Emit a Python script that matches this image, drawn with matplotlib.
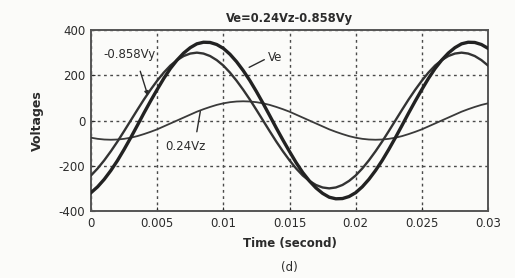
import numpy as np
import matplotlib
matplotlib.use("Agg")
import matplotlib.pyplot as plt

plt.rcParams["font.family"] = ["DejaVu Sans"]
plt.rcParams["axes.unicode_minus"] = False

# time axis (seconds), one sample every 0.5 ms
t = np.arange(61) * 0.0005

# -0.858Vy component
vy = [-243, -212, -176, -136, -93, -47, 0, 47, 93, 136, 176, 212, 243, 267, 285, 296,
      300, 296, 285, 267, 243, 212, 176, 136, 93, 47, 0, -47, -93, -136, -176, -212,
      -243, -267, -285, -296, -300, -296, -285, -267, -243, -212, -176, -136, -93, -47,
      0, 47, 93, 136, 176, 212, 243, 267, 285, 296, 300, 296, 285, 267, 243]

# 0.24Vz component
vz = [-76, -81, -84, -85, -84, -81, -76, -69, -60, -50, -39, -26, -13, 0, 13, 26,
      39, 50, 60, 69, 76, 81, 84, 85, 84, 81, 76, 69, 60, 50, 39, 26,
      13, 0, -13, -26, -39, -50, -60, -69, -76, -81, -84, -85, -84, -81,
      -76, -69, -60, -50, -39, -26, -13, 0, 13, 26, 39, 50, 60, 69, 76]

# Ve resultant
ve = [-319, -293, -260, -221, -177, -128, -76, -22, 33, 86, 137, 186, 230, 267, 298, 322,
      339, 346, 345, 336, 319, 293, 260, 221, 177, 128, 76, 22, -33, -86, -137, -186,
      -230, -267, -298, -322, -339, -346, -345, -336, -319, -293, -260, -221, -177, -128,
      -76, -22, 33, 86, 137, 186, 230, 267, 298, 322, 339, 346, 345, 336, 319]

xticks = [0, 0.005, 0.01, 0.015, 0.02, 0.025, 0.03]
xticklabels = ["0", "0.005", "0.01", "0.015", "0.02", "0.025", "0.03"]
yticks = [-400, -200, 0, 200, 400]

INK = "#2b2b2b"
GRID = "#4a4a4a"
BG = "#fbfbf9"

fig = plt.figure(figsize=(5.15, 2.78), dpi=100, facecolor=BG)
ax = fig.add_axes([0.1767, 0.241, 0.7709, 0.651], facecolor=BG)

ax.plot(t, vz, color="#3a3a3a", lw=1.3, zorder=3)
ax.plot(t, vy, color="#333333", lw=1.7, zorder=3)
ax.plot(t, ve, color="#222222", lw=2.4, zorder=4)

ax.set_xlim(0, 0.03)
ax.set_ylim(-400, 400)
ax.set_xticks(xticks)
ax.set_xticklabels(xticklabels)
ax.set_yticks(yticks)
ax.tick_params(direction="in", length=3, labelsize=8.5, colors=INK, pad=4)
ax.grid(True, color=GRID, linestyle=(0, (2, 2.5)), linewidth=1.0)
for s in ax.spines.values():
    s.set_color("#555555")
    s.set_linewidth(1.4)

ax.set_title("Ve=0.24Vz-0.858Vy", fontsize=8.3, fontweight="bold", color=INK, pad=6)
ax.set_xlabel("Time (second)", fontsize=8.5, fontweight="bold", color=INK, labelpad=5)
ax.set_ylabel("Voltages", fontsize=9, fontweight="bold", color=INK, labelpad=11)

# curve labels
ax.annotate("-0.858Vy", xy=(0.0043, 110), xytext=(0.0009, 294), fontsize=8.5, color=INK,
            ha="left", va="center",
            arrowprops=dict(arrowstyle="-|>", color=INK, lw=1.0, mutation_scale=6,
                            shrinkA=6, shrinkB=0, relpos=(0.65, 0)))
ax.annotate("Ve", xy=(0.01195, 235), xytext=(0.0134, 278), fontsize=8.5, color=INK,
            ha="left", va="center",
            arrowprops=dict(arrowstyle="-", color=INK, lw=1.0, shrinkA=1, shrinkB=0,
                            relpos=(0, 0.5)))
ax.annotate("0.24Vz", xy=(0.00826, 40), xytext=(0.0056, -115), fontsize=8.5, color=INK,
            ha="left", va="center",
            arrowprops=dict(arrowstyle="-", color=INK, lw=1.0, shrinkA=4, shrinkB=0,
                            relpos=(0.75, 1)))

fig.text(0.562, 0.036, "(d)", fontsize=8.5, color=INK, ha="center", va="center")

fig.savefig("out.png", dpi=100, facecolor=fig.get_facecolor())
